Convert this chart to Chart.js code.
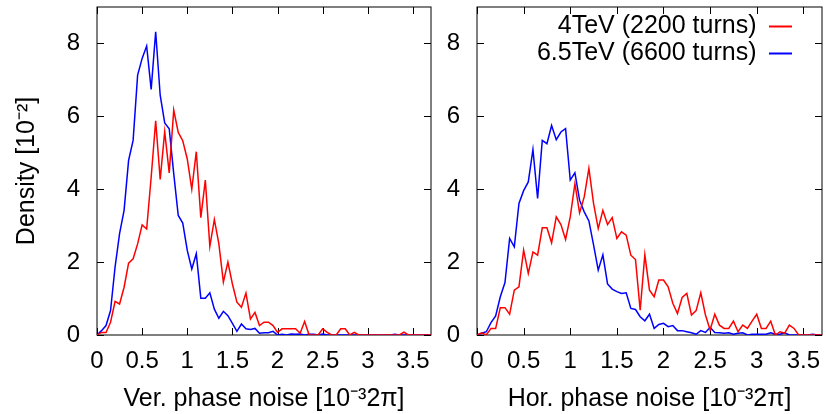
<!DOCTYPE html>
<html>
<head>
<meta charset="utf-8">
<script src="https://cdn.jsdelivr.net/npm/chart.js@4.4.1/dist/chart.umd.min.js"></script>
<style>
  html, body { margin: 0; padding: 0; background: #fff; }
  #wrap { position: relative; width: 826px; height: 414px; }
  canvas { position: absolute; top: 0; }
  #verChart { left: 0; }
  #horChart { left: 432px; }
</style>
</head>
<body>
<div id="wrap">
  <canvas id="verChart" width="440" height="414"></canvas>
  <canvas id="horChart" width="394" height="414"></canvas>
</div>
<script>
// bin positions, in units of 10^-3 2pi
const phaseBins = [
  0, 0.05, 0.1, 0.15, 0.2, 0.25, 0.3, 0.35, 0.4, 0.45,
  0.5, 0.55, 0.6, 0.65, 0.7, 0.75, 0.8, 0.85, 0.9, 0.95,
  1, 1.05, 1.1, 1.15, 1.2, 1.25, 1.3, 1.35, 1.4, 1.45,
  1.5, 1.55, 1.6, 1.65, 1.7, 1.75, 1.8, 1.85, 1.9, 1.95,
  2, 2.05, 2.1, 2.15, 2.2, 2.25, 2.3, 2.35, 2.4, 2.45,
  2.5, 2.55, 2.6, 2.65, 2.7, 2.75, 2.8, 2.85, 2.9, 2.95,
  3, 3.05, 3.1, 3.15, 3.2, 3.25, 3.3, 3.35, 3.4, 3.45,
  3.5, 3.55, 3.6, 3.65, 3.7
];

const seriesNames = ['4TeV (2200 turns)', '6.5TeV (6600 turns)'];
const seriesColors = ['#ff0000', '#0000ff'];

// vertical phase noise, density [10^-2]
const ver4TeV = [
  0, 0.07, 0.07, 0.35, 0.92, 0.85, 1.31, 1.97, 2.09, 2.50,
  3.02, 2.91, 4.33, 5.88, 4.27, 5.58, 4.45, 6.17, 5.56, 5.33,
  4.83, 4.00, 5.03, 3.22, 4.25, 2.43, 3.17, 2.50, 1.45, 2.00,
  1.40, 0.90, 0.76, 1.15, 0.44, 0.62, 0.26, 0.35, 0.35, 0.26,
  0.07, 0.17, 0.17, 0.17, 0.17, 0.05, 0.37, 0, 0, 0,
  0.17, 0.07, 0, 0, 0.17, 0.17, 0, 0.07, 0, 0,
  0, 0, 0, 0, 0, 0, 0, 0, 0.08, 0,
  0, 0, 0, 0, 0
];
const ver6TeV = [
  0, 0.12, 0.26, 0.67, 1.86, 2.78, 3.42, 4.79, 5.34, 7.13,
  7.59, 7.93, 6.74, 8.32, 6.58, 5.82, 5.66, 4.43, 3.28, 3.07,
  2.32, 1.81, 2.23, 1.01, 1.01, 1.16, 0.71, 0.46, 0.65, 0.53,
  0.32, 0.10, 0.30, 0.17, 0.15, 0.18, 0.05, 0.06, 0.06, 0.10,
  0, 0.02, 0, 0.03, 0.02, 0.03, 0, 0.02, 0.02, 0,
  0.03, 0, 0, 0, 0, 0, 0, 0, 0, 0,
  0, 0, 0, 0, 0, 0, 0.02, 0, 0, 0,
  0, 0, 0, 0, 0
];

// horizontal phase noise, density [10^-2]
const hor4TeV = [
  0, 0.06, 0, 0.18, 0.18, 0.75, 0.75, 0.57, 1.23, 1.32,
  2.33, 1.69, 2.28, 2.19, 2.94, 2.94, 2.53, 3.24, 3.03, 2.62,
  3.24, 4.15, 3.35, 3.79, 4.57, 3.61, 2.92, 3.42, 3.03, 3.22,
  2.65, 2.83, 2.74, 2.19, 2.07, 0.68, 2.20, 1.23, 1.05, 1.51,
  1.51, 1.32, 0.87, 0.59, 1.03, 1.14, 0.55, 0.67, 1.16, 0.55,
  0.14, 0.57, 0.27, 0.18, 0.18, 0.38, 0.09, 0.27, 0.18, 0.38,
  0.57, 0.18, 0.18, 0.38, 0, 0.09, 0.05, 0.27, 0.18, 0,
  0, 0, 0, 0, 0
];
const hor6TeV = [
  0, 0.05, 0.09, 0.34, 0.52, 1.05, 1.44, 2.65, 2.42, 3.61,
  3.96, 4.20, 5.09, 3.75, 5.34, 5.25, 5.75, 5.36, 5.57, 5.66,
  4.25, 4.45, 3.70, 3.38, 3.13, 2.47, 1.78, 2.20, 1.40, 1.26,
  1.19, 1.14, 1.16, 0.73, 0.70, 0.50, 0.39, 0.57, 0.18, 0.29,
  0.32, 0.23, 0.26, 0.12, 0.12, 0.09, 0.06, 0.02, 0.12, 0.07,
  0.21, 0.07, 0.06, 0.05, 0.06, 0.02, 0.05, 0.06, 0, 0.02,
  0.02, 0.02, 0.02, 0.06, 0.02, 0.02, 0.06, 0, 0, 0,
  0, 0, 0.02, 0, 0
];

Chart.defaults.font.family = "'Liberation Sans', Arial, sans-serif";
Chart.defaults.color = '#000';

function toPoints(values) {
  return phaseBins.map((x, i) => ({ x: x, y: values[i] }));
}

function makeDatasets(red, blue) {
  return [red, blue].map((vals, i) => ({
    label: seriesNames[i],
    data: toPoints(vals),
    borderColor: seriesColors[i],
    backgroundColor: seriesColors[i],
    borderWidth: 1.5,
    pointRadius: 0,
    tension: 0
  }));
}

// gnuplot style box with inward ticks on all four sides
const framePlugin = {
  id: 'frame',
  beforeDatasetsDraw(chart) {
    const { ctx, chartArea: a, scales: { x, y } } = chart;
    const len = 7;
    ctx.save();
    ctx.strokeStyle = '#000';
    ctx.lineWidth = 1;
    ctx.strokeRect(a.left, a.top, a.right - a.left, a.bottom - a.top);
    ctx.beginPath();
    x.ticks.forEach(t => {
      const px = Math.round(x.getPixelForValue(t.value)) + 0.5;
      ctx.moveTo(px, a.bottom); ctx.lineTo(px, a.bottom - len);
      ctx.moveTo(px, a.top); ctx.lineTo(px, a.top + len);
    });
    y.ticks.forEach(t => {
      const py = Math.round(y.getPixelForValue(t.value)) + 0.5;
      ctx.moveTo(a.left, py); ctx.lineTo(a.left + len, py);
      ctx.moveTo(a.right, py); ctx.lineTo(a.right - len, py);
    });
    ctx.stroke();
    ctx.restore();
  }
};

function xScale(title) {
  return {
    type: 'linear',
    min: 0,
    max: 3.7,
    grid: { display: false },
    border: { display: false },
    ticks: {
      stepSize: 0.5,
      includeBounds: false,
      autoSkip: false,
      maxRotation: 0,
      minRotation: 0,
      padding: 4,
      font: { size: 24 },
      callback: v => String(v)
    },
    title: { display: true, text: title, font: { size: 25 }, padding: { top: 0, bottom: 0 } },
    afterFit: s => { s.height = 79; s.paddingLeft = 0; s.paddingRight = 0; }
  };
}

function yScale(width, title) {
  return {
    min: 0,
    max: 9,
    grid: { display: false },
    border: { display: false },
    ticks: {
      stepSize: 2,
      includeBounds: false,
      padding: 9,
      font: { size: 24 }
    },
    title: { display: !!title, text: title || '', font: { size: 25 }, padding: { top: 12, bottom: 0 } },
    afterFit: s => { s.width = width; s.paddingTop = 0; s.paddingBottom = 0; }
  };
}

new Chart(document.getElementById('verChart'), {
  type: 'line',
  data: { datasets: makeDatasets(ver4TeV, ver6TeV) },
  options: {
    responsive: false,
    animation: false,
    layout: { padding: { left: 0, top: 7, right: 9, bottom: 0 } },
    plugins: { legend: { display: false }, tooltip: { enabled: false } },
    scales: {
      x: xScale('Ver. phase noise [10⁻³2π]'),
      y: yScale(97, 'Density [10⁻²]')
    }
  },
  plugins: [framePlugin]
});

// move the legend block into the top-right corner like the original
const legendShift = {
  id: 'legendShift',
  afterLayout(chart) {
    const lg = chart.legend;
    const right = chart.chartArea.right - 28;
    lg.left = right - lg.width;
    lg.right = right;
    lg.top += 12;
    lg.bottom += 12;
  }
};

new Chart(document.getElementById('horChart'), {
  type: 'line',
  data: { datasets: makeDatasets(hor4TeV, hor6TeV) },
  options: {
    responsive: false,
    animation: false,
    layout: { padding: { left: 0, top: 7, right: 4, bottom: 0 } },
    plugins: {
      tooltip: { enabled: false },
      legend: {
        position: 'chartArea',
        align: 'start',
        rtl: true,
        textDirection: 'ltr',
        labels: {
          font: { size: 25 },
          color: '#000',
          boxWidth: 23,
          boxHeight: 2,
          padding: 2,
          generateLabels: chart =>
            Chart.defaults.plugins.legend.labels.generateLabels(chart).map(item => ({
              ...item, fillStyle: item.strokeStyle, lineWidth: 0
            }))
        }
      }
    },
    scales: {
      x: xScale('Hor. phase noise [10⁻³2π]'),
      y: yScale(45, null)
    }
  },
  plugins: [framePlugin, legendShift]
});
</script>
</body>
</html>
